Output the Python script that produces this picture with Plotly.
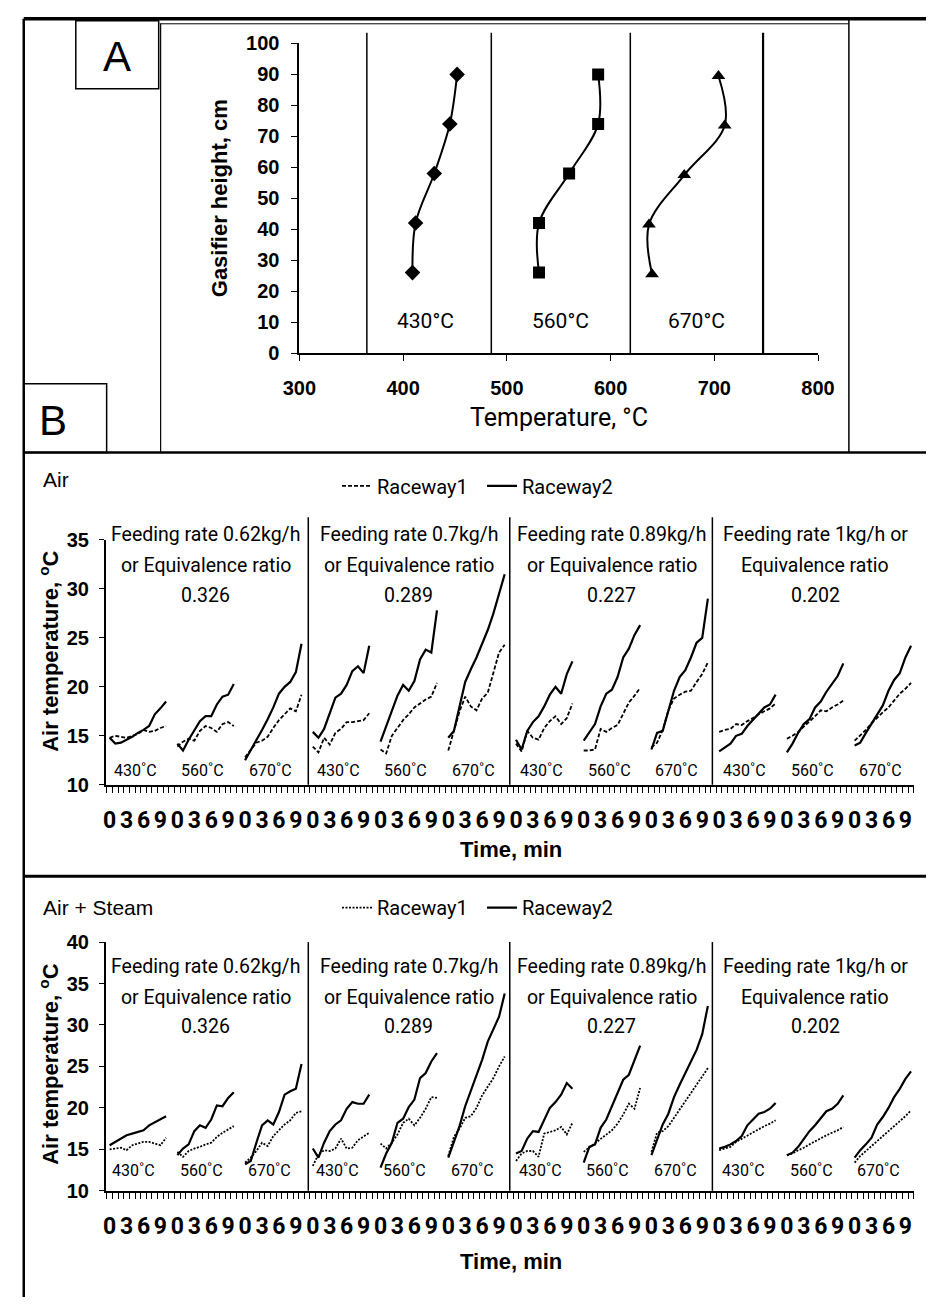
import plotly.graph_objects as go

W, H = 943, 1308


def px(x):
    return x / W


def py(y):
    return 1 - y / H


SANS = "Liberation Sans, Arial, sans-serif"
NARROW = "Roboto, Liberation Sans Narrow, DejaVu Sans Condensed, sans-serif"

# ---------------- Panel A data ----------------
HEIGHT_430 = [26, 42, 58, 74, 90]
TEMP_430 = [409, 412, 430, 445, 452]
HEIGHT_560 = [26, 42, 58, 74, 90]
TEMP_560 = [531, 531, 560, 588, 588]
HEIGHT_670 = [25.5, 41.5, 57.5, 73.5, 89.5]
TEMP_670 = [640, 637, 671, 710, 704]
A_LABELS = ["430°C", "560°C", "670°C"]
A_LABEL_X = [422, 552, 683]
A_SEPARATORS = [365, 485, 619, 747]

# ---------------- Panel B data ----------------
MINUTES = list(range(11))
SLOTS_PER_RUN = 12
RUN_TEMPS = ["430˚C", "560˚C", "670˚C"]
FEED_TEXTS = [
    ["Feeding rate 0.62kg/h", "or Equivalence ratio", "0.326"],
    ["Feeding rate 0.7kg/h", "or Equivalence ratio", "0.289"],
    ["Feeding rate 0.89kg/h", "or Equivalence ratio", "0.227"],
    ["Feeding rate 1kg/h or", "Equivalence ratio", "0.202"],
]
TICK_MINUTES = [0, 3, 6, 9]
N_RUNS = 12
FEED_SEPARATORS = [35.2, 70.9, 106.8]

# Air, Raceway1 (dashed), 12 runs: 4 feeding rates x (430, 560, 670 °C)
AIR_R1 = [
    [14.8, 15.0, 14.9, 14.8, 15.0, 15.2, 15.6, 15.4, 15.5, 15.8, 16.0],
    [13.9, 14.4, 14.7, 14.5, 15.5, 16.0, 15.8, 15.4, 16.2, 16.4, 16.0],
    [12.8, 13.6, 14.3, 14.5, 14.9, 15.8, 16.6, 17.2, 17.8, 17.5, 19.2],
    [13.9, 13.3, 14.8, 14.1, 15.3, 15.7, 16.4, 16.4, 16.5, 16.6, 17.3],
    [13.6, 13.2, 15.0, 15.8, 16.6, 17.2, 17.9, 18.3, 18.7, 19.0, 20.4],
    [13.5, 15.6, 17.5, 19.0, 18.0, 17.6, 18.8, 19.4, 21.5, 23.5, 24.3],
    [14.2, 13.4, 15.5, 14.8, 14.6, 15.8, 16.5, 17.0, 16.2, 16.8, 18.3],
    [13.5, 13.5, 13.6, 15.7, 15.4, 15.8, 16.1, 17.3, 18.4, 19.1, 19.9],
    [13.8, 14.3, 15.6, 17.6, 18.8, 19.2, 19.5, 19.6, 20.5, 21.3, 22.5],
    [15.4, 15.6, 15.7, 16.2, 16.1, 16.5, 16.8, 17.2, 17.5, 17.8, 18.3],
    [14.7, 15.0, 15.4, 15.9, 16.4, 17.0, 17.6, 17.5, 17.9, 18.2, 18.6],
    [14.5, 15.0, 15.6, 16.3, 16.9, 17.4, 17.9, 18.6, 19.3, 19.8, 20.4],
]
# Air, Raceway2 (solid)
AIR_R2 = [
    [14.8, 14.2, 14.3, 14.6, 14.9, 15.3, 15.6, 16.0, 17.2, 17.8, 18.5],
    [14.2, 13.5, 14.6, 15.6, 16.5, 17.0, 17.0, 18.2, 19.0, 19.2, 20.3],
    [12.5, 13.5, 14.6, 15.6, 16.7, 17.9, 19.3, 20.0, 20.5, 21.5, 24.4],
    [15.4, 14.8, 15.7, 17.2, 18.9, 19.3, 20.2, 21.6, 22.1, 21.4, 24.2],
    [14.4, 16.0, 17.6, 19.1, 20.2, 19.6, 20.6, 22.8, 23.8, 23.5, 27.8],
    [14.8, 15.5, 18.0, 20.5, 21.8, 23.0, 24.4, 25.8, 27.5, 29.5, 31.5],
    [14.6, 13.6, 15.5, 16.4, 17.0, 18.0, 19.2, 20.0, 19.3, 21.3, 22.6],
    [14.5, 15.4, 16.2, 18.0, 19.3, 19.7, 21.0, 23.0, 23.9, 25.3, 26.3],
    [13.6, 15.3, 15.5, 17.5, 19.6, 21.0, 21.7, 23.0, 24.5, 25.0, 29.0],
    [13.4, 13.8, 14.2, 15.0, 15.2, 16.0, 16.6, 17.3, 17.9, 18.2, 19.2],
    [13.3, 14.2, 15.3, 16.2, 16.7, 17.9, 18.5, 19.5, 20.3, 21.1, 22.4],
    [14.0, 14.3, 15.3, 16.2, 17.2, 18.1, 19.6, 20.7, 21.4, 23.0, 24.2],
]
# Air + Steam, Raceway1 (dotted)
STEAM_R1 = [
    [15.0, 15.1, 15.2, 14.9, 15.5, 15.7, 15.9, 15.9, 15.7, 15.5, 16.4],
    [14.7, 14.1, 14.8, 15.1, 15.3, 15.6, 15.8, 16.5, 17.0, 17.4, 17.8],
    [13.4, 14.0, 14.8, 15.8, 15.4, 16.6, 17.3, 18.0, 18.5, 19.4, 19.6],
    [13.0, 14.4, 14.9, 14.8, 15.1, 16.3, 15.1, 15.2, 16.1, 16.6, 17.0],
    [15.7, 15.1, 15.8, 16.8, 18.2, 18.7, 17.9, 18.8, 19.9, 21.3, 21.2],
    [14.2, 16.5, 17.5, 18.8, 19.0, 20.0, 21.5, 22.5, 23.6, 25.0, 26.2],
    [13.6, 14.5, 14.8, 14.8, 14.1, 16.9, 17.1, 17.3, 17.7, 16.8, 18.2],
    [14.7, 15.2, 15.7, 16.3, 16.7, 17.3, 18.1, 19.2, 20.5, 19.9, 22.4],
    [14.7, 17.0, 17.2, 17.8, 18.8, 19.8, 20.8, 21.8, 22.8, 23.8, 24.8],
    [14.9, 15.1, 15.3, 15.9, 16.3, 16.7, 17.0, 17.4, 17.8, 18.1, 18.5],
    [14.3, 14.5, 14.9, 15.2, 15.6, 16.0, 16.3, 16.7, 17.0, 17.3, 17.7],
    [13.4, 14.2, 14.8, 15.4, 15.9, 16.6, 17.2, 17.7, 18.4, 19.0, 19.7],
]
# Air + Steam, Raceway2 (solid)
STEAM_R2 = [
    [15.5, 15.9, 16.2, 16.7, 16.9, 17.1, 17.3, 17.9, 18.3, 18.6, 19.0],
    [14.3, 15.1, 15.6, 17.2, 17.9, 17.6, 18.6, 20.3, 20.2, 21.2, 21.9],
    [13.2, 13.6, 15.8, 17.9, 18.5, 18.0, 19.5, 21.6, 22.0, 22.3, 25.3],
    [15.1, 14.0, 15.8, 17.2, 18.0, 18.5, 19.9, 20.7, 20.5, 20.5, 21.6],
    [12.8, 14.5, 15.8, 18.2, 18.7, 20.1, 21.0, 23.6, 24.2, 25.6, 26.6],
    [14.0, 15.8, 17.8, 20.2, 22.0, 23.8, 25.8, 28.0, 29.5, 31.0, 33.8],
    [14.5, 14.8, 16.3, 17.2, 17.1, 18.5, 20.0, 20.7, 21.6, 23.0, 22.3],
    [13.4, 15.3, 15.6, 17.6, 18.6, 20.2, 21.9, 23.4, 24.0, 25.8, 27.5],
    [14.3, 16.2, 18.0, 19.3, 21.3, 22.8, 24.2, 25.6, 27.0, 28.9, 32.3],
    [15.1, 15.3, 15.6, 16.0, 16.6, 17.9, 18.6, 19.3, 19.5, 19.9, 20.6],
    [14.3, 14.6, 15.3, 16.2, 17.2, 17.9, 18.8, 19.6, 19.9, 20.5, 21.5],
    [14.0, 14.9, 15.6, 16.4, 18.0, 18.9, 20.0, 21.3, 22.3, 23.5, 24.4],
]

fig = go.Figure()

# ---------------- Panel A traces ----------------
for temps, heights, sym in [
    (TEMP_430, HEIGHT_430, "diamond"),
    (TEMP_560, HEIGHT_560, "square"),
    (TEMP_670, HEIGHT_670, "triangle-up"),
]:
    fig.add_trace(go.Scatter(
        x=temps, y=heights, mode="lines+markers", xaxis="x", yaxis="y",
        line=dict(color="black", width=2, shape="spline", smoothing=1.0),
        marker=dict(symbol=sym, size=12, color="black"),
        showlegend=False, hoverinfo="skip",
    ))


# ---------------- Panel B traces ----------------
def add_panel(r1, r2, xa, ya, dash1, legend_name):
    for g in range(N_RUNS):
        xs = [g * SLOTS_PER_RUN + m for m in MINUTES]
        fig.add_trace(go.Scatter(
            x=xs, y=r1[g], mode="lines", xaxis=xa, yaxis=ya,
            line=dict(color="black", width=1.8, dash=dash1),
            name="Raceway1", legendgroup=legend_name + "r1",
            showlegend=(g == 0), legend=legend_name, hoverinfo="skip",
        ))
        fig.add_trace(go.Scatter(
            x=xs, y=r2[g], mode="lines", xaxis=xa, yaxis=ya,
            line=dict(color="black", width=2.2),
            name="Raceway2", legendgroup=legend_name + "r2",
            showlegend=(g == 0), legend=legend_name, hoverinfo="skip",
        ))


add_panel(AIR_R1, AIR_R2, "x2", "y2", "4px,2px", "legend")
add_panel(STEAM_R1, STEAM_R2, "x3", "y3", "2px,1.5px", "legend2")

tickvals = [g * SLOTS_PER_RUN + m for g in range(N_RUNS) for m in TICK_MINUTES]
ticktext = [str(m) for g in range(N_RUNS) for m in TICK_MINUTES]

bx_common = dict(
    range=[-0.7, 142.6], showline=True, linecolor="black", linewidth=1.5,
    showgrid=False, zeroline=False, tickvals=tickvals, ticktext=ticktext,
    ticks="", ticklabelstandoff=14, tickangle=0,
    tickfont=dict(family=NARROW, size=23, color="black", weight="bold"),
    minor=dict(ticks="outside", ticklen=6, tickcolor="black", tickwidth=1,
               dtick=1, tick0=-0.5, showgrid=False),
)
by_common = dict(
    showline=True, linecolor="black", linewidth=1.5, showgrid=False,
    zeroline=False, ticks="outside", ticklen=5, tickcolor="black",
    ticklabelstandoff=6,
    tickfont=dict(family=SANS, size=20, color="black", weight="bold"),
)

fig.update_layout(
    width=W, height=H, autosize=False,
    margin=dict(l=0, r=0, t=0, b=0),
    paper_bgcolor="white", plot_bgcolor="white",
    xaxis=dict(domain=[px(293), px(831)], range=[300, 800], anchor="y",
               showline=True, linecolor="black", linewidth=2, showgrid=False,
               zeroline=False, tickvals=[300, 400, 500, 600, 700, 800],
               ticks="outside", ticklen=6, tickcolor="black", ticklabelstandoff=10,
               tickfont=dict(family=SANS, size=20, color="black", weight="bold")),
    yaxis=dict(domain=[py(348), py(33)], range=[0, 100], anchor="x",
               showline=True, linecolor="black", linewidth=2, showgrid=False,
               zeroline=False, dtick=10, tick0=0,
               ticks="outside", ticklen=6, tickcolor="black", ticklabelstandoff=8,
               tickfont=dict(family=SANS, size=20, color="black", weight="bold")),
    xaxis2=dict(domain=[px(92), px(931)], anchor="y2", **bx_common),
    yaxis2=dict(domain=[py(787), py(538)], range=[10, 35], anchor="x2",
                tickvals=[10, 15, 20, 25, 30, 35], **by_common),
    xaxis3=dict(domain=[px(92), px(931)], anchor="y3", **bx_common),
    yaxis3=dict(domain=[py(1200), py(947)], range=[10, 40], anchor="x3",
                tickvals=[10, 15, 20, 25, 30, 35, 40], **by_common),
    legend=dict(x=px(332), y=py(483), xanchor="left", yanchor="middle",
                orientation="h", bgcolor="rgba(0,0,0,0)", borderwidth=0,
                font=dict(family=NARROW, size=20, color="black"),
                entrywidth=100, entrywidthmode="pixels"),
    legend2=dict(x=px(332), y=py(912), xanchor="left", yanchor="middle",
                 orientation="h", bgcolor="rgba(0,0,0,0)", borderwidth=0,
                 font=dict(family=NARROW, size=20, color="black"),
                 entrywidth=100, entrywidthmode="pixels"),
)

# ---------------- Frame shapes ----------------
shapes = []


def pline(x0, y0, x1, y1, w=1.5):
    shapes.append(dict(type="line", xref="paper", yref="paper",
                       x0=px(x0), y0=py(y0), x1=px(x1), y1=py(y1),
                       line=dict(color="black", width=w)))


pline(7, 8, 943, 8, 3.5)          # top thick line
pline(148, 13, 863, 13, 1)        # inner top of panel A
pline(7, 8, 7, 1308, 2.5)         # left border
pline(863, 8, 863, 449, 1.5)      # right border panel A
pline(149, 13, 149, 449, 1.2)     # divider panel A
pline(7, 449, 943, 449, 2.5)      # panel A / B border
pline(7, 880, 943, 880, 3)        # Air / Air+Steam border
# Box A
shapes.append(dict(type="rect", xref="paper", yref="paper",
                   x0=px(61), y0=py(79), x1=px(147), y1=py(10),
                   line=dict(color="black", width=1.5)))
# Box B
shapes.append(dict(type="rect", xref="paper", yref="paper",
                   x0=px(7), y0=py(449), x1=px(93), y1=py(379),
                   line=dict(color="black", width=1.5)))

# Panel A vertical separators (extend a little above the plot area)
for i, xs in enumerate(A_SEPARATORS):
    shapes.append(dict(type="line", xref="x", yref="paper", x0=xs, x1=xs,
                       y0=py(348), y1=py(22),
                       line=dict(color="black", width=2.2 if i == 3 else 1.5)))

# Panel B separators between feeding rates
for xs in FEED_SEPARATORS:
    shapes.append(dict(type="line", xref="x2", yref="paper", x0=xs, x1=xs,
                       y0=py(787), y1=py(515), line=dict(color="black", width=1.5)))
    shapes.append(dict(type="line", xref="x3", yref="paper", x0=xs, x1=xs,
                       y0=py(1200), y1=py(947), line=dict(color="black", width=1.5)))

fig.update_layout(shapes=shapes)

# ---------------- Annotations ----------------
ann = []


def ptext(text, x, y, size, family=SANS, bold=False, angle=0, xanchor="center"):
    ann.append(dict(text=text, x=px(x), y=py(y), xref="paper", yref="paper",
                    showarrow=False, textangle=angle, xanchor=xanchor, yanchor="middle",
                    font=dict(family=family, size=size, color="black",
                              weight="bold" if bold else "normal")))


ptext("A", 104, 46, 42)
ptext("B", 37, 416, 42)
ptext("Gasifier height, cm", 210, 190, 22, bold=True, angle=-90)
ptext("Temperature, °C", 562, 413, 25, family=NARROW)
ptext("Air", 25, 477, 21, xanchor="left")
ptext("Air + Steam", 25, 912, 21, xanchor="left")
ptext("Air temperature, <sup>o</sup>C", 33, 651, 22, bold=True, angle=-90)
ptext("Air temperature, <sup>o</sup>C", 33, 1071, 22, bold=True, angle=-90)
ptext("Time, min", 512, 853, 22, bold=True)
ptext("Time, min", 512, 1272, 22, bold=True)

for lab, lx in zip(A_LABELS, A_LABEL_X):
    ann.append(dict(text=lab, x=lx, y=10.5, xref="x", yref="y", showarrow=False,
                    font=dict(family=NARROW, size=21, color="black")))

# feeding-rate captions: three lines each, placed in pixel rows
AIR_ROWS = [532, 564, 594]
STEAM_ROWS = [972, 1003, 1033]
for f, lines in enumerate(FEED_TEXTS):
    cx = f * 3 * SLOTS_PER_RUN + 17
    for line, ra, rs in zip(lines, AIR_ROWS, STEAM_ROWS):
        ann.append(dict(text=line, x=cx, y=py(ra), xref="x2", yref="paper",
                        showarrow=False, yanchor="middle",
                        font=dict(family=NARROW, size=19.5, color="black")))
        ann.append(dict(text=line, x=cx, y=py(rs), xref="x3", yref="paper",
                        showarrow=False, yanchor="middle",
                        font=dict(family=NARROW, size=19.5, color="black")))

for g in range(N_RUNS):
    lab = RUN_TEMPS[g % 3]
    ann.append(dict(text=lab, x=g * SLOTS_PER_RUN + 4.5, y=11.5, xref="x2", yref="y2",
                    showarrow=False, font=dict(family=NARROW, size=16, color="black")))
    ann.append(dict(text=lab, x=g * SLOTS_PER_RUN + 4.3, y=12.5, xref="x3", yref="y3",
                    showarrow=False, font=dict(family=NARROW, size=16, color="black")))

fig.update_layout(annotations=ann)

fig.write_html("out.html", config={"displayModeBar": False},
               post_script="document.body.style.margin='0px';")
